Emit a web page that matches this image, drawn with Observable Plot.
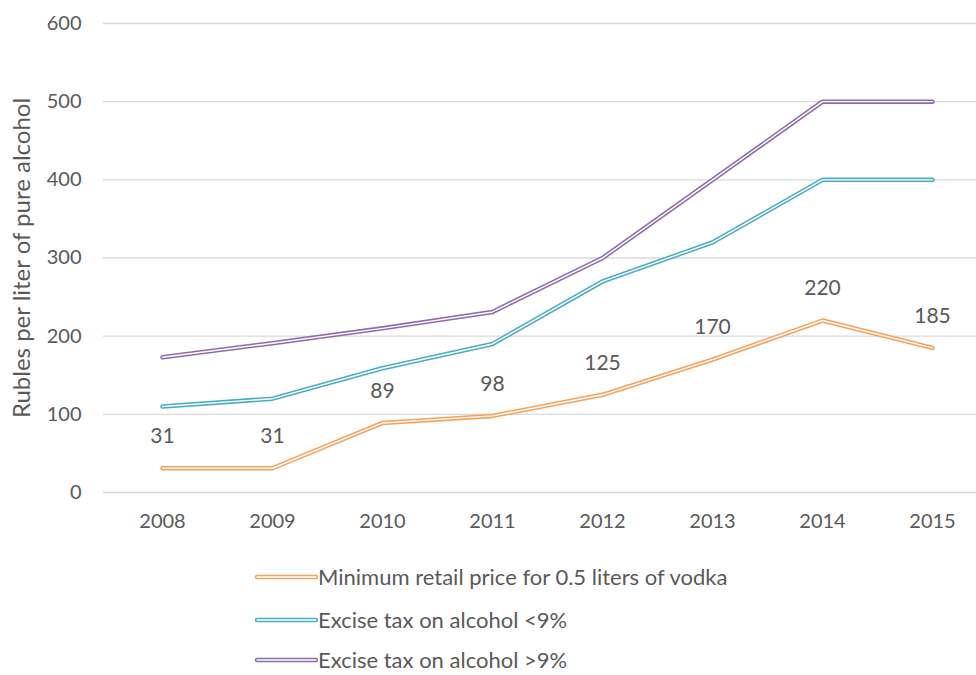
<!DOCTYPE html>
<html>
<head>
<meta charset="utf-8">
<script src="https://cdn.jsdelivr.net/npm/d3@7"></script>
<script src="https://cdn.jsdelivr.net/npm/@observablehq/plot@0.6"></script>
<style>
  html, body { margin: 0; padding: 0; background: #fff; }
  body { width: 976px; height: 675px; overflow: hidden; font-family: Lato, "Open Sans", sans-serif; }
  #legend { position: absolute; left: 254px; top: 0; }
  .row { position: absolute; left: 0; white-space: nowrap; display: flex; align-items: center; font-size: 22px; line-height: 26px; color: #595959; }
</style>
</head>
<body>
<div id="chart"></div>
<div id="legend"></div>
<script>
const years = ["2008", "2009", "2010", "2011", "2012", "2013", "2014", "2015"];
const seriesNames = [
  "Minimum retail price for 0.5 liters of vodka",
  "Excise tax on alcohol <9%",
  "Excise tax on alcohol >9%"
];
const minRetail = [31, 31, 89, 98, 125, 170, 220, 185];
const exciseLow = [110, 120, 159, 190, 270, 320, 400, 400];
const exciseHigh = [173, 191, 210, 231, 300, 400, 500, 500];
const colors = ["#F9A05A", "#4BACC6", "#8C6BB1"];
const yTicks = [0, 100, 200, 300, 400, 500, 600];

const allSeries = [minRetail, exciseLow, exciseHigh];
const rows = [];
allSeries.forEach((vals, i) => vals.forEach((v, j) => rows.push({series: seriesNames[i], year: years[j], value: v})));
const labelRows = minRetail.map((v, j) => ({year: years[j], value: v}));

const textColor = "#595959";
const chart = Plot.plot({
  width: 976,
  height: 550,
  marginTop: 23,
  marginBottom: 58,
  marginLeft: 103,
  marginRight: 0,
  style: {fontFamily: "Lato, 'Open Sans', sans-serif", color: textColor, background: "#fff"},
  x: {type: "point", domain: years, range: [160, 933], padding: 0, label: null},
  y: {domain: [0, 600], label: null},
  color: {domain: seriesNames, range: colors},
  marks: [
    Plot.gridY(yTicks, {stroke: "#d9d9d9", strokeOpacity: 1, strokeWidth: 1.3}),
    Plot.axisY(yTicks, {tickSize: 0, tickPadding: 22, fontSize: 20, fill: textColor, label: null}),
    Plot.axisX(years, {tickSize: 0, tickPadding: 21, fontSize: 20, fill: textColor, label: null}),
    Plot.text(["Rubles per liter of pure alcohol"], {frameAnchor: "left", textAnchor: "middle", rotate: -90, dx: -81, fontSize: 24, fill: textColor}),
    Plot.line(rows, {x: "year", y: "value", z: "series", stroke: "series", strokeWidth: 4.5, strokeLinejoin: "round", strokeLinecap: "round"}),
    Plot.line(rows, {x: "year", y: "value", z: "series", stroke: "#fff", strokeWidth: 1.4, strokeLinejoin: "round", strokeLinecap: "round"}),
    Plot.text(labelRows, {x: "year", y: "value", text: d => String(d.value), dy: -32, fontSize: 21, fill: textColor})
  ]
});
document.getElementById("chart").appendChild(chart);

const legend = document.getElementById("legend");
const tops = [577, 620, 660];
seriesNames.forEach((name, i) => {
  const row = document.createElement("div");
  row.className = "row";
  row.style.top = (tops[i] - 13) + "px";
  row.style.height = "26px";
  const ns = "http://www.w3.org/2000/svg";
  const s = document.createElementNS(ns, "svg");
  s.setAttribute("width", 64); s.setAttribute("height", 10);
  const l1 = document.createElementNS(ns, "line");
  l1.setAttribute("x1", 3); l1.setAttribute("x2", 62); l1.setAttribute("y1", 5); l1.setAttribute("y2", 5);
  l1.setAttribute("stroke", colors[i]); l1.setAttribute("stroke-width", 4.5); l1.setAttribute("stroke-linecap", "round");
  const l2 = l1.cloneNode();
  l2.setAttribute("stroke", "#fff"); l2.setAttribute("stroke-width", 1.4);
  s.appendChild(l1); s.appendChild(l2);
  row.appendChild(s);
  const t = document.createElement("span");
  t.textContent = name;
  row.appendChild(t);
  legend.appendChild(row);
});
</script>
</body>
</html>
